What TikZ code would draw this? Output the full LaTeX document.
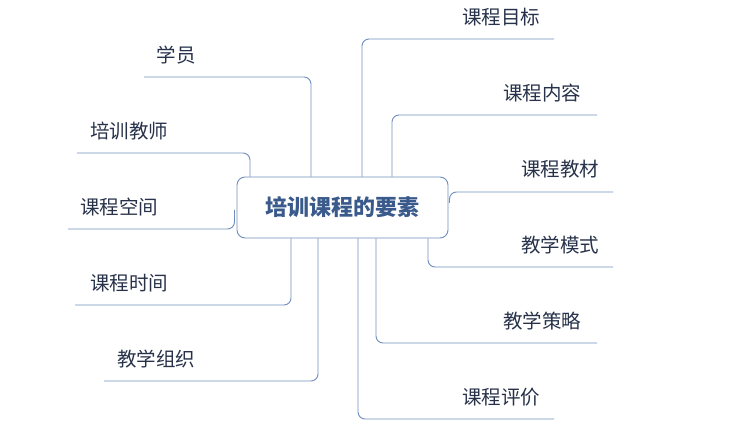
\documentclass[tikz,border=0pt]{standalone}
\usepackage{fontspec}
\newfontfamily\cjk{Noto Sans CJK SC}
\definecolor{linec}{HTML}{6F8DBC}
\definecolor{textc}{HTML}{27324A}
\definecolor{titlec}{HTML}{3A5A8C}
\tikzset{
  link/.style={draw=linec, line width=0.9pt, rounded corners=7pt},
  lbl/.style={inner sep=0pt, text=textc, font=\cjk\fontsize{19.5pt}{19.5pt}\selectfont},
  mainbox/.style={draw=linec, line width=0.9pt, rounded corners=8pt, fill=white,
    minimum width=211pt, minimum height=61pt, inner sep=0pt,
    text=titlec, font=\cjk\bfseries\fontsize{22pt}{22pt}\selectfont}
}
\begin{document}
\begin{tikzpicture}[x=1pt,y=-1pt]
\useasboundingbox (0,0) rectangle (737,435);
% label line ends
\coordinate (e1) at (144,77);
\coordinate (e2) at (77,153);
\coordinate (e3) at (68,229);
\coordinate (e4) at (75,305);
\coordinate (e5) at (104,381);
\coordinate (f1) at (554,39);
\coordinate (f2) at (597,115);
\coordinate (f3) at (613,192);
\coordinate (f4) at (613,267);
\coordinate (f5) at (597,343);
\coordinate (f6) at (554,419);
% vertical stems
\coordinate (v1) at (311,0);
\coordinate (v2) at (250,0);
\coordinate (v3) at (234.5,210);
\coordinate (v4) at (291,0);
\coordinate (v5) at (318,0);
\coordinate (w1) at (362,0);
\coordinate (w2) at (392,0);
\coordinate (w3) at (449.5,203);
\coordinate (w4) at (428,0);
\coordinate (w5) at (376,0);
\coordinate (w6) at (358,0);
\node[mainbox] (box) at (342.5,207.5) {培训课程的要素};
% connectors
\draw[link] (box.north -| v1) |- (e1);
\draw[link] (box.north -| v2) |- (e2);
\draw[link] (v3) |- (e3);
\draw[link] (box.south -| v4) |- (e4);
\draw[link] (box.south -| v5) |- (e5);
\draw[link] (box.north -| w1) |- (f1);
\draw[link] (box.north -| w2) |- (f2);
\draw[link] (w3) |- (f3);
\draw[link] (box.south -| w4) |- (f4);
\draw[link] (box.south -| w5) |- (f5);
\draw[link] (box.south -| w6) |- (f6);
% labels
\node[lbl] (n1) at (176,55) {学员};
\node[lbl] (n2) at (129,131) {培训教师};
\node[lbl] (n3) at (119,207) {课程空间};
\node[lbl] (n4) at (129,283) {课程时间};
\node[lbl] (n5) at (156,359) {教学组织};
\node[lbl] (m1) at (501,17) {课程目标};
\node[lbl] (m2) at (542,93) {课程内容};
\node[lbl] (m3) at (560,169) {课程教材};
\node[lbl] (m4) at (560,245) {教学模式};
\node[lbl] (m5) at (542,321) {教学策略};
\node[lbl] (m6) at (501,397) {课程评价};
\end{tikzpicture}
\end{document}
